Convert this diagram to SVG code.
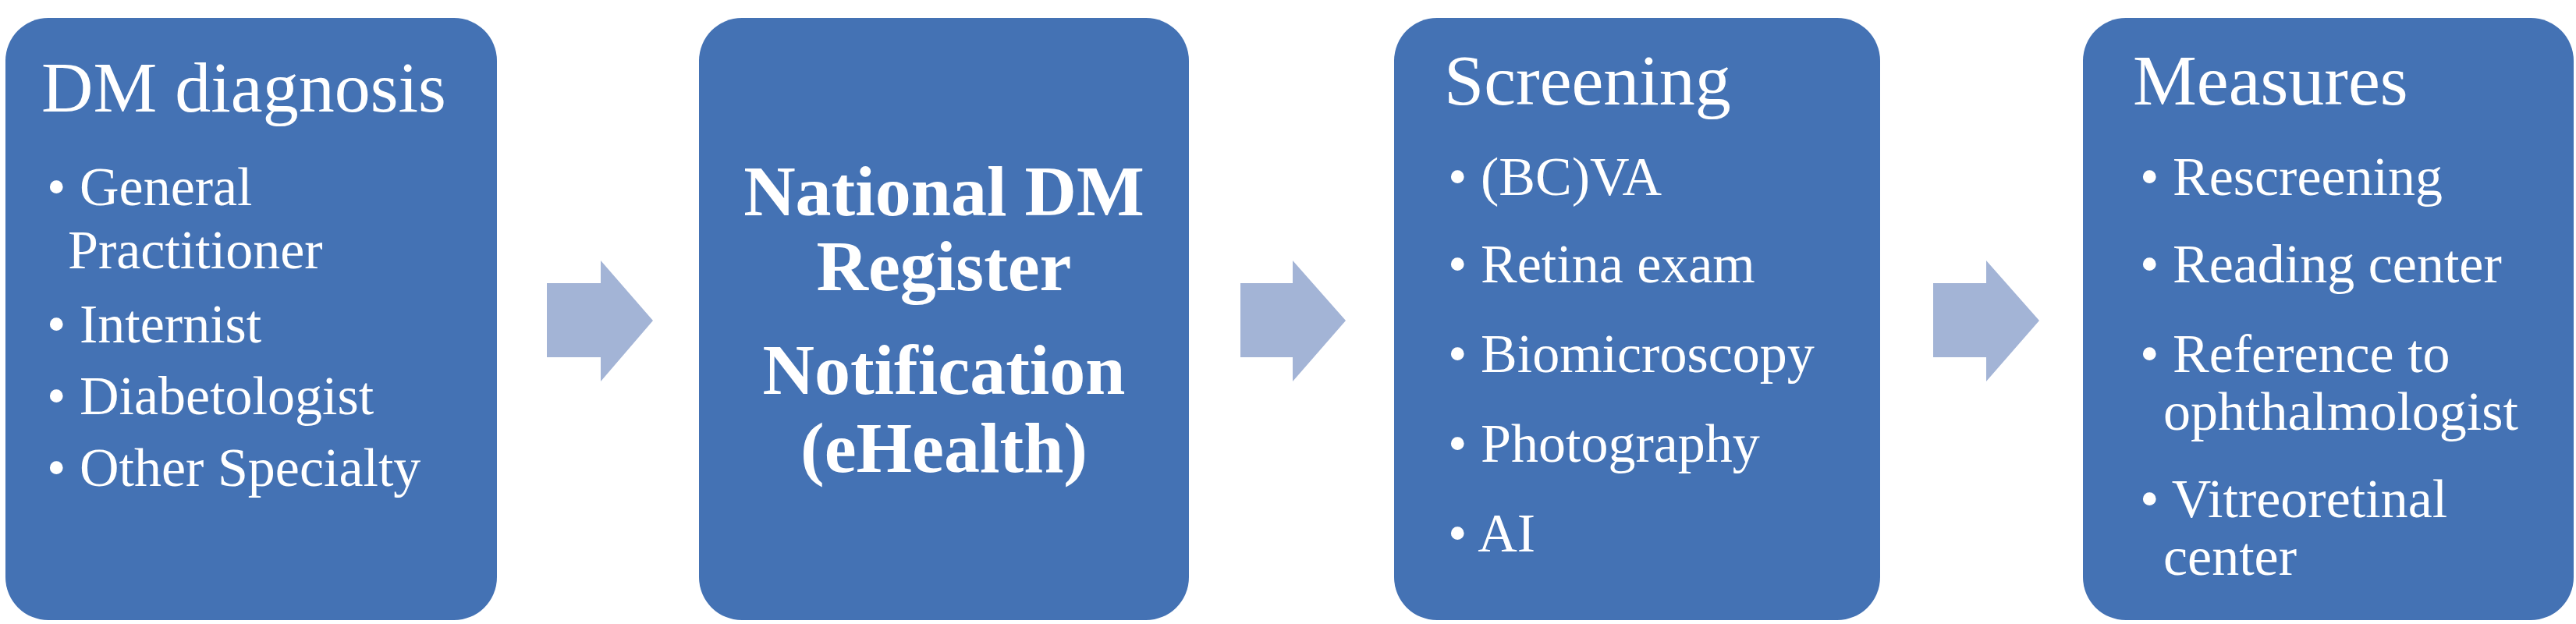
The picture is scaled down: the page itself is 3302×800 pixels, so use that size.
<svg xmlns="http://www.w3.org/2000/svg" width="3302" height="800" viewBox="0 0 3302 800">
<style>
.box{fill:#4472B4}
.arr{fill:#A3B4D6}
text{font-family:"Liberation Serif","Times New Roman",serif;fill:#fff}
.t{font-size:92px}
.b{font-size:70px}
.c{font-size:92px;font-weight:bold;text-anchor:middle}
</style>
<rect width="3302" height="800" fill="#fff"/>
<g id="connectors">
<polygon class="arr" points="701,363 770,363 770,334 837,411 770,489 770,458 701,458"/>
<polygon class="arr" points="1590,363 1657,363 1657,334 1725,411 1657,489 1657,458 1590,458"/>
<polygon class="arr" points="2478,363 2546,363 2546,334 2614,411 2546,489 2546,458 2478,458"/>
</g>
<g id="n1">
<rect class="box" x="7" y="23" width="630" height="772" rx="55"/>
<text class="t" x="53" y="143">DM diagnosis</text>
<text class="b" x="60" y="263">• General</text>
<text class="b" x="87" y="344">Practitioner</text>
<text class="b" x="60" y="439">• Internist</text>
<text class="b" x="60" y="531">• Diabetologist</text>
<text class="b" x="60" y="623">• Other Specialty</text>
</g>
<g id="n2">
<rect class="box" x="896" y="23" width="628" height="772" rx="55"/>
<text class="c" x="1210" y="276">National DM</text>
<text class="c" x="1210" y="372">Register</text>
<text class="c" x="1210" y="505">Notification</text>
<text class="c" x="1210" y="605">(eHealth)</text>
</g>
<g id="n3">
<rect class="box" x="1787" y="23" width="623" height="772" rx="55"/>
<text class="t" x="1851" y="134">Screening</text>
<text class="b" x="1856" y="250">• (BC)VA</text>
<text class="b" x="1856" y="362">• Retina exam</text>
<text class="b" x="1856" y="477">• Biomicroscopy</text>
<text class="b" x="1856" y="592">• Photography</text>
<text class="b" x="1856" y="707">• AI</text>
</g>
<g id="n4">
<rect class="box" x="2670" y="23" width="629" height="772" rx="55"/>
<text class="t" x="2734" y="134">Measures</text>
<text class="b" x="2743" y="250">• Rescreening</text>
<text class="b" x="2743" y="362">• Reading center</text>
<text class="b" x="2743" y="477">• Reference to</text>
<text class="b" x="2773" y="551">ophthalmologist</text>
<text class="b" x="2743" y="663">• Vitreoretinal</text>
<text class="b" x="2773" y="737">center</text>
</g>
</svg>
